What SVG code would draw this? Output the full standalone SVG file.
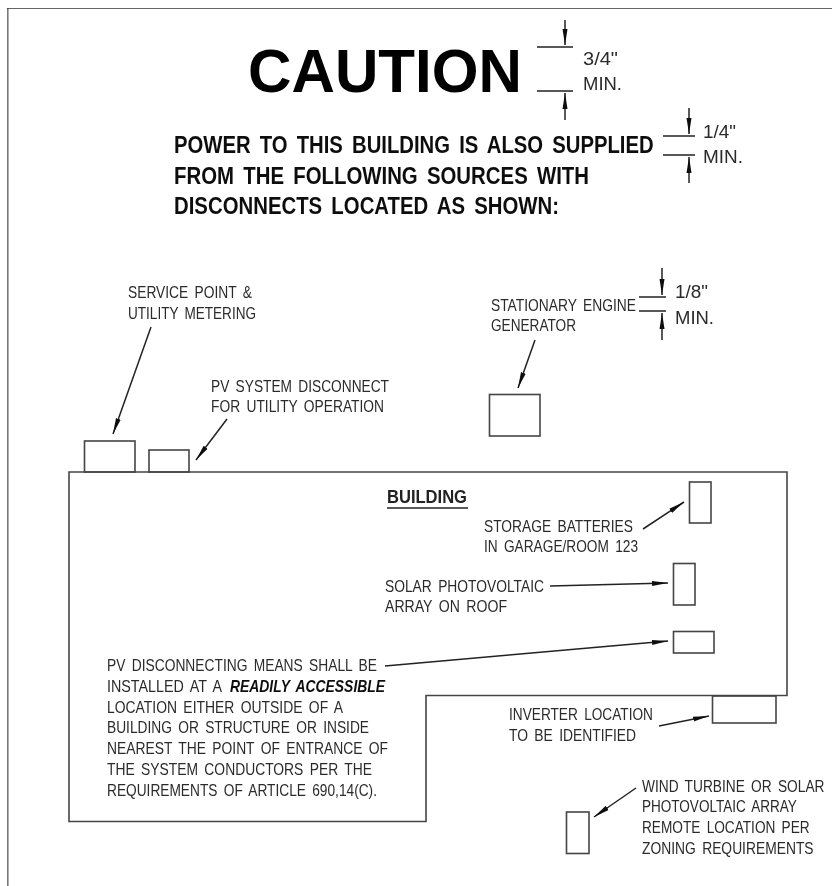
<svg xmlns="http://www.w3.org/2000/svg" width="832" height="886" viewBox="0 0 832 886">
<style>
text{font-family:"Liberation Sans",Arial,sans-serif;fill:#2b2b2b;font-size:16.5px;word-spacing:3px}
.h{font-size:23px;font-weight:bold;fill:#111;word-spacing:4px}
.c{font-size:62px;font-weight:bold;fill:#000;word-spacing:0}
.d{font-size:18px}
.b{font-weight:bold;fill:#222;font-size:17.5px}
.bi{font-weight:bold;font-style:italic;fill:#111}
.box{fill:none;stroke:#444;stroke-width:1.6}
.lead{fill:none;stroke:#222;stroke-width:1.5}
.ar{marker-end:url(#a)}
.dim{fill:none;stroke:#222;stroke-width:1.6}
</style>
<defs>
<filter id="soft" x="0" y="0" width="100%" height="100%"><feGaussianBlur stdDeviation="0.35"/></filter>
<marker id="a" markerUnits="userSpaceOnUse" markerWidth="17" markerHeight="8" refX="16" refY="4" orient="auto"><path d="M0 1.5L16 4L0 6.5Z" fill="#111"/></marker>
</defs>
<rect width="832" height="886" fill="#fff"/>
<g filter="url(#soft)">
<g id="frame"><path d="M7.5 886V8" fill="none" stroke="#777" stroke-width="2.2"/><path d="M7 8H832" fill="none" stroke="#333" stroke-width="1.6"/></g>
<g id="heading">
<text class="c" x="248" y="92" textLength="274" lengthAdjust="spacingAndGlyphs">CAUTION</text>
<text class="h" transform="translate(174 153) scale(.882 1)">POWER TO THIS BUILDING IS ALSO SUPPLIED</text>
<text class="h" x="174" y="184" textLength="415" lengthAdjust="spacingAndGlyphs">FROM THE FOLLOWING SOURCES WITH</text>
<text class="h" x="174" y="214" textLength="385" lengthAdjust="spacingAndGlyphs">DISCONNECTS LOCATED AS SHOWN:</text>
</g>
<g id="dim-34">
<path class="dim" d="M537 47H573M537 91H573"/>
<path class="lead ar" d="M565 20V45"/><path class="lead ar" d="M565 120V93"/>
<text class="d" x="583" y="65" textLength="35" lengthAdjust="spacingAndGlyphs">3/4"</text>
<text class="d" x="583" y="90" textLength="39" lengthAdjust="spacingAndGlyphs">MIN.</text>
</g>
<g id="dim-14">
<path class="dim" d="M663 136H695M663 155H695"/>
<path class="lead ar" d="M689 108V134"/><path class="lead ar" d="M689 183V157"/>
<text class="d" x="703" y="138" textLength="33" lengthAdjust="spacingAndGlyphs">1/4"</text>
<text class="d" x="703" y="163" textLength="40" lengthAdjust="spacingAndGlyphs">MIN.</text>
</g>
<g id="dim-18">
<path class="dim" d="M639 297H666M639 311H666"/>
<path class="lead ar" d="M662 268V295"/><path class="lead ar" d="M662 340V313"/>
<text class="d" x="675" y="298" textLength="33" lengthAdjust="spacingAndGlyphs">1/8"</text>
<text class="d" x="675" y="324" textLength="39" lengthAdjust="spacingAndGlyphs">MIN.</text>
</g>
<g id="building">
<path class="box" d="M69 472H787V695.5H426V821.5H69Z" stroke-width="2"/>
<text class="b" x="387" y="503" textLength="80" lengthAdjust="spacingAndGlyphs">BUILDING</text>
<path d="M387 508H468" stroke="#222" stroke-width="1.5"/>
</g>
<g id="service-point">
<rect class="box" x="84.5" y="441" width="50.5" height="31"/>
<text x="128" y="298" textLength="124" lengthAdjust="spacingAndGlyphs">SERVICE POINT &amp;</text>
<text x="128" y="319" textLength="128" lengthAdjust="spacingAndGlyphs">UTILITY METERING</text>
</g>
<g id="pv-system-disconnect">
<rect class="box" x="149" y="450" width="40" height="22"/>
<text x="211" y="392" textLength="178" lengthAdjust="spacingAndGlyphs">PV SYSTEM DISCONNECT</text>
<text x="211" y="412" textLength="173" lengthAdjust="spacingAndGlyphs">FOR UTILITY OPERATION</text>
</g>
<g id="generator">
<rect class="box" x="489.5" y="394.5" width="50.5" height="41.5"/>
<text x="491" y="311" textLength="145" lengthAdjust="spacingAndGlyphs">STATIONARY ENGINE</text>
<text x="491" y="331" textLength="85" lengthAdjust="spacingAndGlyphs">GENERATOR</text>
</g>
<g id="storage-batteries">
<rect class="box" x="689.5" y="482" width="21.5" height="41"/>
<text x="484" y="532" textLength="149" lengthAdjust="spacingAndGlyphs">STORAGE BATTERIES</text>
<text x="484" y="552" textLength="154" lengthAdjust="spacingAndGlyphs">IN GARAGE/ROOM 123</text>
</g>
<g id="solar-array">
<rect class="box" x="673.5" y="563.5" width="21.5" height="41.5"/>
<text x="385" y="592" textLength="159" lengthAdjust="spacingAndGlyphs">SOLAR PHOTOVOLTAIC</text>
<text x="385" y="612" textLength="122" lengthAdjust="spacingAndGlyphs">ARRAY ON ROOF</text>
</g>
<g id="pv-disconnecting-means">
<rect class="box" x="673.5" y="631.5" width="40.5" height="21.5"/>
<text x="107" y="671" textLength="270" lengthAdjust="spacingAndGlyphs">PV DISCONNECTING MEANS SHALL BE</text>
<text x="107" y="692" textLength="115" lengthAdjust="spacingAndGlyphs">INSTALLED AT A</text>
<text class="bi" x="230" y="692" textLength="155" lengthAdjust="spacingAndGlyphs">READILY ACCESSIBLE</text>
<text x="107" y="713" textLength="236" lengthAdjust="spacingAndGlyphs">LOCATION EITHER OUTSIDE OF A</text>
<text x="107" y="733" textLength="262" lengthAdjust="spacingAndGlyphs">BUILDING OR STRUCTURE OR INSIDE</text>
<text x="107" y="754" textLength="281" lengthAdjust="spacingAndGlyphs">NEAREST THE POINT OF ENTRANCE OF</text>
<text x="107" y="775" textLength="265" lengthAdjust="spacingAndGlyphs">THE SYSTEM CONDUCTORS PER THE</text>
<text x="107" y="796" textLength="270" lengthAdjust="spacingAndGlyphs">REQUIREMENTS OF ARTICLE 690,14(C).</text>
</g>
<g id="inverter">
<rect class="box" x="712.5" y="696" width="63.5" height="27"/>
<text x="509" y="720" textLength="144" lengthAdjust="spacingAndGlyphs">INVERTER LOCATION</text>
<text x="509" y="741" textLength="127" lengthAdjust="spacingAndGlyphs">TO BE IDENTIFIED</text>
</g>
<g id="wind-turbine">
<rect class="box" x="566.5" y="812" width="22.5" height="41.5"/>
<text transform="translate(642 792) scale(.832 1)">WIND TURBINE OR SOLAR</text>
<text transform="translate(642 812) scale(.821 1)">PHOTOVOLTAIC ARRAY</text>
<text transform="translate(642 833) scale(.828 1)">REMOTE LOCATION PER</text>
<text transform="translate(642 854) scale(.839 1)">ZONING REQUIREMENTS</text>
</g>
<g id="connectors">
<path class="lead ar" d="M151 327L113 434"/>
<path class="lead ar" d="M227 419L196 460"/>
<path class="lead ar" d="M535 340L518 388"/>
<path class="lead ar" d="M643 529L684 502"/>
<path class="lead ar" d="M550 586L668 583"/>
<path class="lead ar" d="M385 666L668 641"/>
<path class="lead ar" d="M659 726L709 716"/>
<path class="lead ar" d="M636 788L594 817"/>
</g>
</g>
</svg>
